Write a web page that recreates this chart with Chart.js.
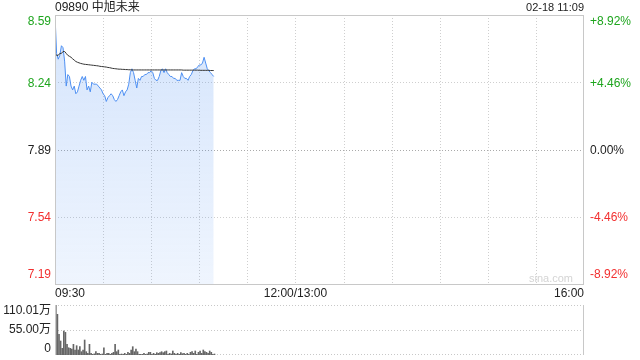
<!DOCTYPE html>
<html>
<head>
<meta charset="utf-8">
<script src="https://cdn.jsdelivr.net/npm/chart.js@4.4.1/dist/chart.umd.min.js"></script>
<style>
    body { margin: 0; background: #fff; }
    #wrap { position: relative; width: 640px; height: 360px; }
    canvas { position: absolute; left: 0; }
    #priceChart { top: 0; }
    #volChart { top: 300px; }
</style>
</head>
<body>
<div id="wrap">
    <canvas id="priceChart" width="640" height="300"></canvas>
    <canvas id="volChart" width="640" height="60"></canvas>
</div>
<script>
// Chart data (one value per minute from 09:30)
const stockName = '09890 中旭未来';
const stampText = '02-18 11:09';
const prevClose = 7.89;

const price = [
    8.59, 8.39, 8.36, 8.38, 8.43, 8.42, 8.35, 8.22, 8.28, 8.27,
    8.22, 8.20, 8.22, 8.18, 8.19, 8.22, 8.25, 8.27, 8.25, 8.27,
    8.20, 8.22, 8.19, 8.24, 8.23, 8.23, 8.23, 8.22, 8.21, 8.20,
    8.18, 8.17, 8.14, 8.16, 8.17, 8.18, 8.17, 8.15, 8.14, 8.15,
    8.17, 8.19, 8.20, 8.17, 8.19, 8.20, 8.23, 8.29, 8.31, 8.29,
    8.25, 8.21, 8.26, 8.25, 8.27, 8.27, 8.28, 8.28, 8.29, 8.29,
    8.30, 8.29, 8.26, 8.25, 8.25, 8.27, 8.30, 8.31, 8.29, 8.31,
    8.29, 8.28, 8.27, 8.27, 8.26, 8.26, 8.25, 8.25, 8.25, 8.29,
    8.27, 8.26, 8.26, 8.25, 8.27, 8.28, 8.30, 8.31, 8.31, 8.32,
    8.33, 8.33, 8.34, 8.37, 8.34, 8.31, 8.30, 8.29, 8.28, 8.27
];

const avgPrice = [
    8.390, 8.380, 8.380, 8.390, 8.390, 8.400, 8.400, 8.390, 8.380, 8.375,
    8.370, 8.362, 8.355, 8.348, 8.344, 8.341, 8.338, 8.336, 8.334, 8.333,
    8.332, 8.331, 8.330, 8.329, 8.328, 8.327, 8.326, 8.325, 8.323, 8.322,
    8.321, 8.320, 8.319, 8.317, 8.316, 8.314, 8.312, 8.311, 8.310, 8.309,
    8.308, 8.308, 8.307, 8.307, 8.306, 8.306, 8.305, 8.305, 8.304, 8.304,
    8.304, 8.304, 8.304, 8.304, 8.304, 8.304, 8.304, 8.304, 8.304, 8.304,
    8.304, 8.304, 8.304, 8.304, 8.304, 8.304, 8.304, 8.304, 8.304, 8.304,
    8.304, 8.304, 8.304, 8.304, 8.304, 8.304, 8.304, 8.304, 8.304, 8.304,
    8.303, 8.303, 8.303, 8.303, 8.303, 8.303, 8.303, 8.303, 8.303, 8.303,
    8.302, 8.302, 8.302, 8.302, 8.302, 8.302, 8.302, 8.301, 8.301, 8.301
];

// volume in 万
const volume = [
    110.01, 89.5, 45.5, 30.8, 14.7, 52.8, 49.8, 23.5, 16, 14.7,
    13.2, 23.5, 11, 20.5, 11, 18.3, 7.3, 11, 33, 7.3,
    3.7, 23.5, 3.7, 1.5, 2.5, 7.3, 3.7, 3.7, 1.5, 2.2,
    16, 1.5, 3.7, 3.7, 1.5, 3.7, 5.9, 23.5, 7.3, 11,
    1.5, 2.2, 1.5, 3.7, 1.5, 5.9, 3.7, 11, 18.3, 7.3,
    13, 7.3, 1.5, 1.5, 1.5, 3.7, 1.5, 2.2, 5.9, 5.9,
    1.5, 3.7, 1.5, 5.1, 3.7, 5.1, 7.3, 5.1, 7.3, 8.8,
    1.5, 3.7, 2.2, 8.8, 3.7, 1.5, 3.7, 1.5, 5.1, 2.9,
    3.7, 1.5, 3.7, 1.5, 5.9, 7.3, 3.7, 8.8, 1.5, 5.9,
    8.8, 3.7, 11, 7.3, 5.9, 3.7, 8.8, 5.9, 1.5, 2.2
];

const priceTicks = [8.59, 8.24, 7.89, 7.54, 7.19];
const pctTicks = ['+8.92%', '+4.46%', '0.00%', '-4.46%', '-8.92%'];
const timeTicks = [0, 150, 330];
const timeLabels = ['09:30', '12:00/13:00', '16:00'];
const volTicks = [110.01, 55.00, 0];
const volLabels = ['110.01万', '55.00万', '0'];

const FONT = '"Liberation Sans", Arial, "Noto Sans CJK SC", sans-serif';
const GREEN = '#1ea51e';
const RED = '#f23030';

function colorFor(v) {
    if (v > prevClose + 0.001) return GREEN;
    if (v < prevClose - 0.001) return RED;
    return '#222';
}

function dottedLine(ctx, x1, y1, x2, y2, color) {
    ctx.save();
    ctx.strokeStyle = color;
    ctx.lineWidth = 1;
    ctx.setLineDash([1, 2]);
    ctx.beginPath();
    ctx.moveTo(x1, y1);
    ctx.lineTo(x2, y2);
    ctx.stroke();
    ctx.restore();
}

// grid, frame and labels for the price panel
const priceDeco = {
    id: 'priceDeco',
    beforeDatasetsDraw(chart) {
        const { ctx, chartArea: a, scales } = chart;
        const x = scales.x, y = scales.y;
        for (let k = 1; k < 11; k++) {
            const px = Math.round(x.getPixelForValue(k * 30)) + 0.5;
            dottedLine(ctx, px, a.top, px, a.bottom, '#cfcfcf');
        }
        priceTicks.slice(1, 4).forEach(v => {
            const py = Math.round(y.getPixelForValue(v)) + 0.5;
            dottedLine(ctx, a.left, py, a.right, py, v === prevClose ? '#aaa' : '#cfcfcf');
        });
        // watermark
        ctx.save();
        ctx.font = '11px ' + FONT;
        ctx.fillStyle = '#d4d4d4';
        ctx.textAlign = 'right';
        ctx.textBaseline = 'alphabetic';
        ctx.fillText('sina.com', a.right - 11, a.bottom - 2);
        ctx.restore();
    },
    afterDatasetsDraw(chart) {
        const { ctx, chartArea: a, scales } = chart;
        const x = scales.x, y = scales.y;
        ctx.save();
        ctx.strokeStyle = '#c8c8c8';
        ctx.lineWidth = 1;
        ctx.strokeRect(Math.round(a.left) + 0.5, Math.round(a.top) + 0.5,
            Math.round(a.right - a.left) - 1, Math.round(a.bottom - a.top));

        ctx.font = '12px ' + FONT;
        priceTicks.forEach((v, i) => {
            const py = y.getPixelForValue(v);
            ctx.textBaseline = i === 0 ? 'top' : (i === priceTicks.length - 1 ? 'bottom' : 'middle');
            const ty = i === 0 ? a.top + 1 : (i === priceTicks.length - 1 ? a.bottom - 3 : py + 1);
            ctx.fillStyle = colorFor(v);
            ctx.textAlign = 'right';
            ctx.fillText(v.toFixed(2), a.left - 4, ty);
            ctx.textAlign = 'left';
            ctx.fillText(pctTicks[i], a.right + 6, ty);
        });

        ctx.fillStyle = '#222';
        ctx.textBaseline = 'middle';
        timeTicks.forEach((t, i) => {
            ctx.textAlign = i === 0 ? 'left' : (i === timeTicks.length - 1 ? 'right' : 'center');
            ctx.fillText(timeLabels[i], x.getPixelForValue(t), a.bottom + 10);
        });

        ctx.textBaseline = 'middle';
        ctx.textAlign = 'left';
        ctx.fillText(stockName, a.left, 8);
        ctx.font = '11px ' + FONT;
        ctx.textAlign = 'right';
        ctx.fillText(stampText, a.right, 8);
        ctx.restore();
    }
};

const volDeco = {
    id: 'volDeco',
    beforeDatasetsDraw(chart) {
        const { ctx, chartArea: a, scales } = chart;
        const y = scales.y;
        volTicks.forEach(v => {
            const py = Math.round(y.getPixelForValue(v)) - 0.5 + (v === 0 ? 0 : 1);
            dottedLine(ctx, a.left, py, a.right, py, '#c8c8c8');
        });
    },
    afterDatasetsDraw(chart) {
        const { ctx, chartArea: a, scales } = chart;
        const y = scales.y;
        ctx.save();
        ctx.strokeStyle = '#c8c8c8';
        ctx.lineWidth = 1;
        ctx.beginPath();
        ctx.moveTo(Math.round(a.right) - 0.5, a.top);
        ctx.lineTo(Math.round(a.right) - 0.5, a.bottom);
        ctx.moveTo(Math.round(a.left) + 0.5, a.top);
        ctx.lineTo(Math.round(a.left) + 0.5, a.bottom);
        ctx.stroke();

        ctx.font = '12px ' + FONT;
        ctx.fillStyle = '#222';
        ctx.textAlign = 'right';
        volTicks.forEach((v, i) => {
            const py = y.getPixelForValue(v);
            ctx.textBaseline = i === 0 ? 'top' : (i === volTicks.length - 1 ? 'bottom' : 'middle');
            const ty = i === 0 ? a.top : (i === volTicks.length - 1 ? a.bottom : py);
            ctx.fillText(volLabels[i], a.left - 4, ty);
        });
        ctx.restore();
    }
};

Chart.defaults.font.family = FONT;

new Chart(document.getElementById('priceChart'), {
    type: 'line',
    data: {
        datasets: [{
            data: avgPrice.map((v, i) => ({ x: i, y: v })),
            borderColor: '#333',
            borderWidth: 1,
            pointRadius: 0,
            fill: false
        }, {
            data: price.map((v, i) => ({ x: i, y: v })),
            borderColor: '#4d8ff2',
            borderWidth: 1,
            pointRadius: 0,
            fill: 'start',
            backgroundColor: function (context) {
                const a = context.chart.chartArea;
                if (!a) return 'rgba(77,143,242,0.15)';
                const g = context.chart.ctx.createLinearGradient(0, a.top, 0, a.bottom);
                g.addColorStop(0, 'rgba(77,143,242,0.24)');
                g.addColorStop(1, 'rgba(77,143,242,0.09)');
                return g;
            }
        }]
    },
    options: {
        responsive: false,
        animation: false,
        devicePixelRatio: 1,
        layout: { padding: { left: 55, right: 56, top: 15, bottom: 16 } },
        plugins: { legend: { display: false }, tooltip: { enabled: false } },
        scales: {
            x: { type: 'linear', min: 0, max: 330, display: false },
            y: { min: 7.19, max: 8.59, display: false }
        }
    },
    plugins: [priceDeco]
});

new Chart(document.getElementById('volChart'), {
    type: 'bar',
    data: {
        datasets: [{
            data: volume.map((v, i) => ({ x: i, y: v })),
            backgroundColor: '#666',
            barThickness: 1
        }]
    },
    options: {
        responsive: false,
        animation: false,
        devicePixelRatio: 1,
        layout: { padding: { left: 55, right: 56, top: 5, bottom: 5 } },
        plugins: { legend: { display: false }, tooltip: { enabled: false } },
        scales: {
            x: { type: 'linear', min: -0.5, max: 329.5, display: false, offset: false },
            y: { min: 0, max: 110.01, display: false }
        }
    },
    plugins: [volDeco]
});
</script>
</body>
</html>
